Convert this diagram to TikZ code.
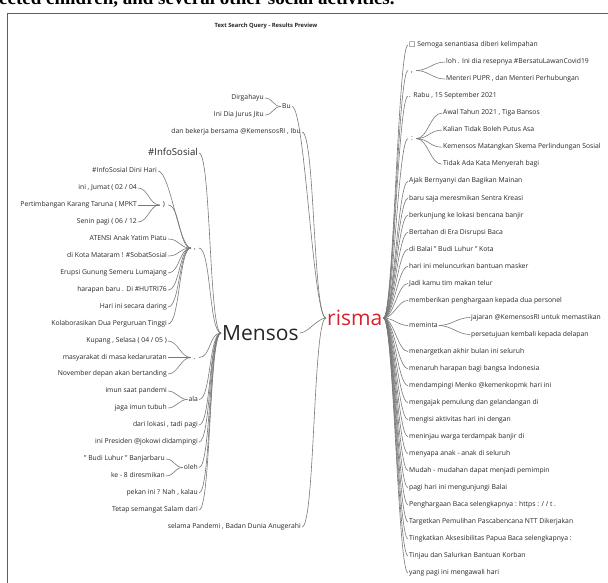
\documentclass[tikz,border=0pt]{standalone}
\usepackage{fontspec}
\setmainfont{Open Sans}
\newfontfamily\docserif{Liberation Serif}
\newfontfamily\boxglyph{DejaVu Sans}
\definecolor{wtink}{RGB}{38,38,38}
\definecolor{wtgrey}{RGB}{120,120,120}
\definecolor{wtred}{RGB}{214,34,44}
\definecolor{wtframe}{RGB}{95,95,95}

\begin{document}
\begin{tikzpicture}[x=1pt, y=-1pt,
    word/.style={inner sep=1pt, text=wtink, font=\fontsize{6.8}{8}\selectfont, text height=5pt, text depth=1.5pt},
    lword/.style={word, anchor=east},
    rword/.style={word, anchor=west},
    punct/.style={word, inner xsep=3pt},
    hub/.style={inner sep=1pt, font=\fontsize{21}{24}\selectfont},
    link/.style={draw=wtgrey, line width=0.6pt},
    wt/.style={to path={.. controls +(#1,0) and +(-#1,0) .. (\tikztotarget)}},
    wt/.default=10]

\useasboundingbox (0,0) rectangle (608,583);
\begin{scope}
  \clip (0,0) rectangle (608,583);
  \node[anchor=base west, inner sep=0pt, text=black, font=\docserif\bfseries\fontsize{19}{22}\selectfont] (doc) at (-1,5) {ected children, and several other social activities.};
\end{scope}
\draw[draw=wtframe, line width=0.8pt] (7,583) -- (7,13) -- (608,13);
\node[text=wtink, font=\bfseries\fontsize{5.8}{7}\selectfont] (title) at (266,26) {Text Search Query - Results Preview};

% the two hubs
\node[hub, anchor=west, text=wtink] (ms) at (221,333) {Mensos};
\node[hub, anchor=west, text=wtred] (rs) at (326,318) {risma};
\draw[link] (ms.east) to[wt=8] (rs.west);

% words before risma
\node[lword] (l_dirg) at (265,98) {Dirgahayu};
\node[lword] (l_jitu) at (265,115) {Ini Dia Jurus Jitu};
\node[rword] (l_bu) at (281,106.5) {Bu};
\node[lword] (l_ibu) at (302,132) {dan bekerja bersama @KemensosRI , Ibu};
\node[lword] (l_sel) at (302,527) {selama Pandemi , Badan Dunia Anugerahi};
\draw[link] (l_dirg.east) to[wt=8] (l_bu.west);
\draw[link] (l_jitu.east) to[wt=8] (l_bu.west);
\foreach \n in {l_bu,l_ibu,l_sel}
  \draw[link] (\n.east) to[wt=13] (rs.west);

% words before Mensos
\node[lword, font=\fontsize{9.6}{11}\selectfont, text height=7pt, text depth=2pt] (l_info) at (199,153) {\#InfoSosial};
\node[punct, anchor=east] (l_comma) at (199,248) {,};
\node[punct, anchor=east] (l_dot) at (199,357.5) {.};
\node[lword] (l_ala) at (199,399.5) {ala};
\node[lword] (l_lok) at (199,425) {dari lokasi , tadi pagi};
\node[lword] (l_pres) at (199,442) {ini Presiden @jokowi didampingi};
\node[lword] (l_oleh) at (199,467.5) {oleh};
\node[lword] (l_nah) at (199,493) {pekan ini ? Nah , kalau};
\node[lword] (l_tetap) at (199,510) {Tetap semangat Salam dari};
\foreach \n in {l_info,l_comma,l_dot,l_ala,l_lok,l_pres,l_oleh,l_nah,l_tetap}
  \draw[link] (\n.east) to[wt=12] (ms.west);

% before ","
\node[lword] (l_dini) at (158,171) {\#InfoSosial Dini Hari};
\node[punct, anchor=east] (l_paren) at (168,205) {)};
\node[lword] (l_aten) at (168,239) {ATENSI Anak Yatim Piatu};
\node[lword] (l_mat) at (168,256) {di Kota Mataram ! \#SobatSosial};
\node[lword] (l_eru) at (168,273) {Erupsi Gunung Semeru Lumajang};
\node[lword] (l_har) at (168,290) {harapan baru . Di \#HUTRI76};
\node[lword] (l_dar) at (168,307) {Hari ini secara daring};
\node[lword] (l_kol) at (168,324) {Kolaborasikan Dua Perguruan Tinggi};
\foreach \n in {l_dini,l_paren,l_aten,l_mat,l_eru,l_har,l_dar,l_kol}
  \draw[link] (\n.east) to[wt=12] (l_comma.west);

\node[lword] (l_jum) at (138,188) {ini , Jumat ( 02 / 04};
\node[lword] (l_mpkt) at (138,205) {Pertimbangan Karang Taruna ( MPKT};
\node[lword] (l_sen) at (138,222) {Senin pagi ( 06 / 12};
\foreach \n in {l_jum,l_mpkt,l_sen}
  \draw[link] (\n.east) to[wt=10] (l_paren.west);

% before "." , "ala" and "oleh"
\node[lword] (l_kup) at (168,341) {Kupang , Selasa ( 04 / 05 )};
\node[lword] (l_mas) at (168,357.5) {masyarakat di masa kedaruratan};
\node[lword] (l_nov) at (168,374) {November depan akan bertanding};
\foreach \n in {l_kup,l_mas,l_nov}
  \draw[link] (\n.east) to[wt=10] (l_dot.west);
\node[lword] (l_imun) at (168,391) {imun saat pandemi};
\node[lword] (l_jaga) at (168,408) {jaga imun tubuh};
\foreach \n in {l_imun,l_jaga}
  \draw[link] (\n.east) to[wt=8] (l_ala.west);
\node[lword] (l_budi) at (166,459) {" Budi Luhur " Banjarbaru};
\node[lword] (l_ke) at (166,476) {ke - 8 diresmikan};
\foreach \n in {l_budi,l_ke}
  \draw[link] (\n.east) to[wt=8] (l_oleh.west);

% words after risma
\foreach \row/\wrd in {0/{{\boxglyph □} Semoga senantiasa diberi kelimpahan},
    3/{. Rabu , 15 September 2021}, 8/{Ajak Bernyanyi dan Bagikan Mainan},
    9/{baru saja meresmikan Sentra Kreasi}, 10/{berkunjung ke lokasi bencana banjir},
    11/{Bertahan di Era Disrupsi Baca}, 12/{di Balai " Budi Luhur " Kota},
    13/{hari ini meluncurkan bantuan masker}, 14/{Jadi kamu tim makan telur},
    15/{memberikan penghargaan kepada dua personel}, 18/{menargetkan akhir bulan ini seluruh},
    19/{menaruh harapan bagi bangsa Indonesia}, 20/{mendampingi Menko @kemenkopmk hari ini},
    21/{mengajak pemulung dan gelandangan di}, 22/{mengisi aktivitas hari ini dengan},
    23/{meninjau warga terdampak banjir di}, 24/{menyapa anak - anak di seluruh},
    25/{Mudah - mudahan dapat menjadi pemimpin}, 26/{pagi hari ini mengunjungi Balai},
    27/{Penghargaan Baca selengkapnya : https : / / t .},
    28/{Targetkan Pemulihan Pascabencana NTT Dikerjakan},
    29/{Tingkatkan Aksesibilitas Papua Baca selengkapnya :},
    30/{Tinjau dan Salurkan Bantuan Korban}, 31/{yang pagi ini mengawali hari}}
  \node[rword] (r\row) at (408,{45+17.03*\row}) {\wrd};

\node[punct, anchor=west] (rc) at (408,70.5) {,};
\node[punct, anchor=west] (rk) at (408,138.6) {:};
\node[rword] (rm) at (408,325.5) {meminta};
\node[rword] (r1) at (445,62.03) {loh . Ini dia resepnya \#BersatuLawanCovid19};
\node[rword] (r2) at (445,79.06) {Menteri PUPR , dan Menteri Perhubungan};
\node[rword] (r4) at (442,113.12) {Awal Tahun 2021 , Tiga Bansos};
\node[rword] (r5) at (442,130.15) {Kalian Tidak Boleh Putus Asa};
\node[rword] (r6) at (442,147.18) {Kemensos Matangkan Skema Perlindungan Sosial};
\node[rword] (r7) at (442,164.21) {Tidak Ada Kata Menyerah bagi};
\node[rword] (r16) at (470,317.48) {jajaran @KemensosRI untuk memastikan};
\node[rword] (r17) at (470,334.51) {persetujuan kembali kepada delapan};

\foreach \n in {r0,rc,r3,rk,r8,r9,r10,r11,r12,r13,r14,r15,rm,r18,r19,r20,r21,r22,r23,r24,r25,r26,r27,r28,r29,r30,r31}
  \draw[link] (rs.east) to[wt=10] (\n.west);
\foreach \n in {r1,r2}
  \draw[link] (rc.east) to[wt=12] (\n.west);
\foreach \n in {r4,r5,r6,r7}
  \draw[link] (rk.east) to[wt=12] (\n.west);
\foreach \n in {r16,r17}
  \draw[link] (rm.east) to[wt=12] (\n.west);

\end{tikzpicture}
\end{document}
